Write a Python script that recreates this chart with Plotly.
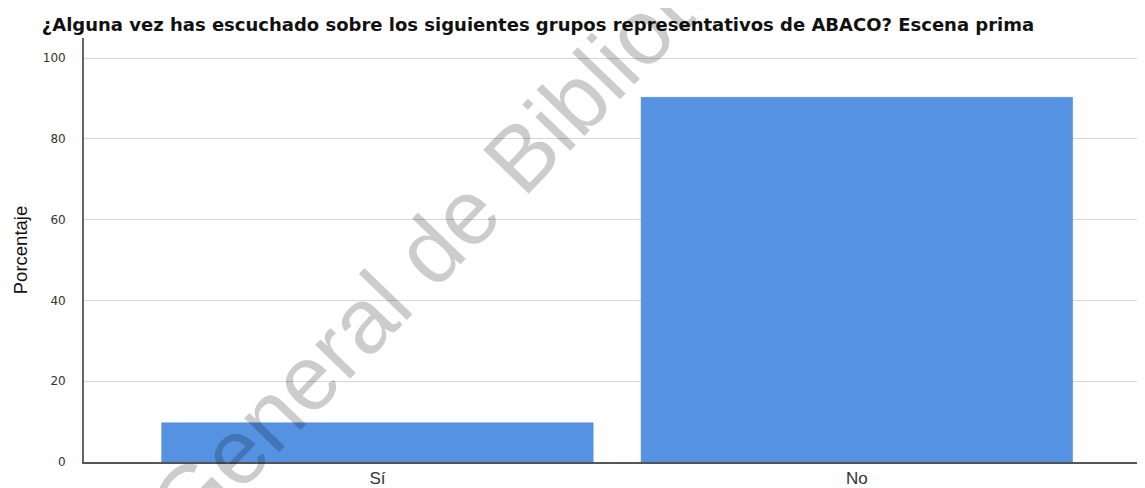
import plotly.graph_objects as go

categories = ["Sí", "No"]
percentages = [9.7, 90.3]
y_ticks = [0, 20, 40, 60, 80, 100]

title_text = "¿Alguna vez has escuchado sobre los siguientes grupos representativos de ABACO? Escena prima"
y_title = "Porcentaje"
watermark = "General de Bibliotecas"

W, H = 1137, 480  # page body has an 8px margin in the 1145x488 window

fig = go.Figure()
fig.add_trace(go.Bar(
    x=categories, y=percentages,
    marker=dict(color="#5593E2", line=dict(color="#4a86d6", width=0.5)),
    hoverinfo="x+y",
))

fig.update_layout(
    width=W, height=H,
    margin=dict(l=76, r=0, t=30, b=26),
    paper_bgcolor="white", plot_bgcolor="white",
    bargap=0.1,
    showlegend=False,
    title=dict(text="<b>" + title_text + "</b>", x=530 / W, xanchor="center",
               y=1 - 16.5 / H, yanchor="middle", yref="container",
               font=dict(family="DejaVu Sans", size=18, color="#111111")),
    xaxis=dict(range=[-0.612, 1.601], showgrid=False, showline=True,
               linecolor="#555555", linewidth=1.5, ticks="", automargin=False,
               tickfont=dict(family="Liberation Sans, Arial, sans-serif", size=17, color="#333333"),
               fixedrange=True),
    yaxis=dict(range=[0, 105], tickvals=y_ticks, showgrid=True,
               gridcolor="#d6d6d6", gridwidth=1.3, showline=True,
               linecolor="#666666", linewidth=1.8, ticks="", zeroline=False,
               automargin=False, ticklabelstandoff=14,
               tickfont=dict(family="DejaVu Sans", size=12, color="#333333"),
               title=dict(text=y_title, standoff=10,
                          font=dict(family="Liberation Sans Narrow, Arial Narrow, sans-serif",
                                    size=18.5, color="#111111")),
               fixedrange=True),
)

fig.add_annotation(
    text=watermark, xref="paper", yref="paper",
    x=0.3806, y=0.6418,
    xanchor="center", yanchor="middle", showarrow=False,
    textangle=-46,
    font=dict(family="Liberation Sans, Arial, sans-serif", size=92, color="rgba(0,0,0,0.2)"),
)

fig.write_html("out.html")
